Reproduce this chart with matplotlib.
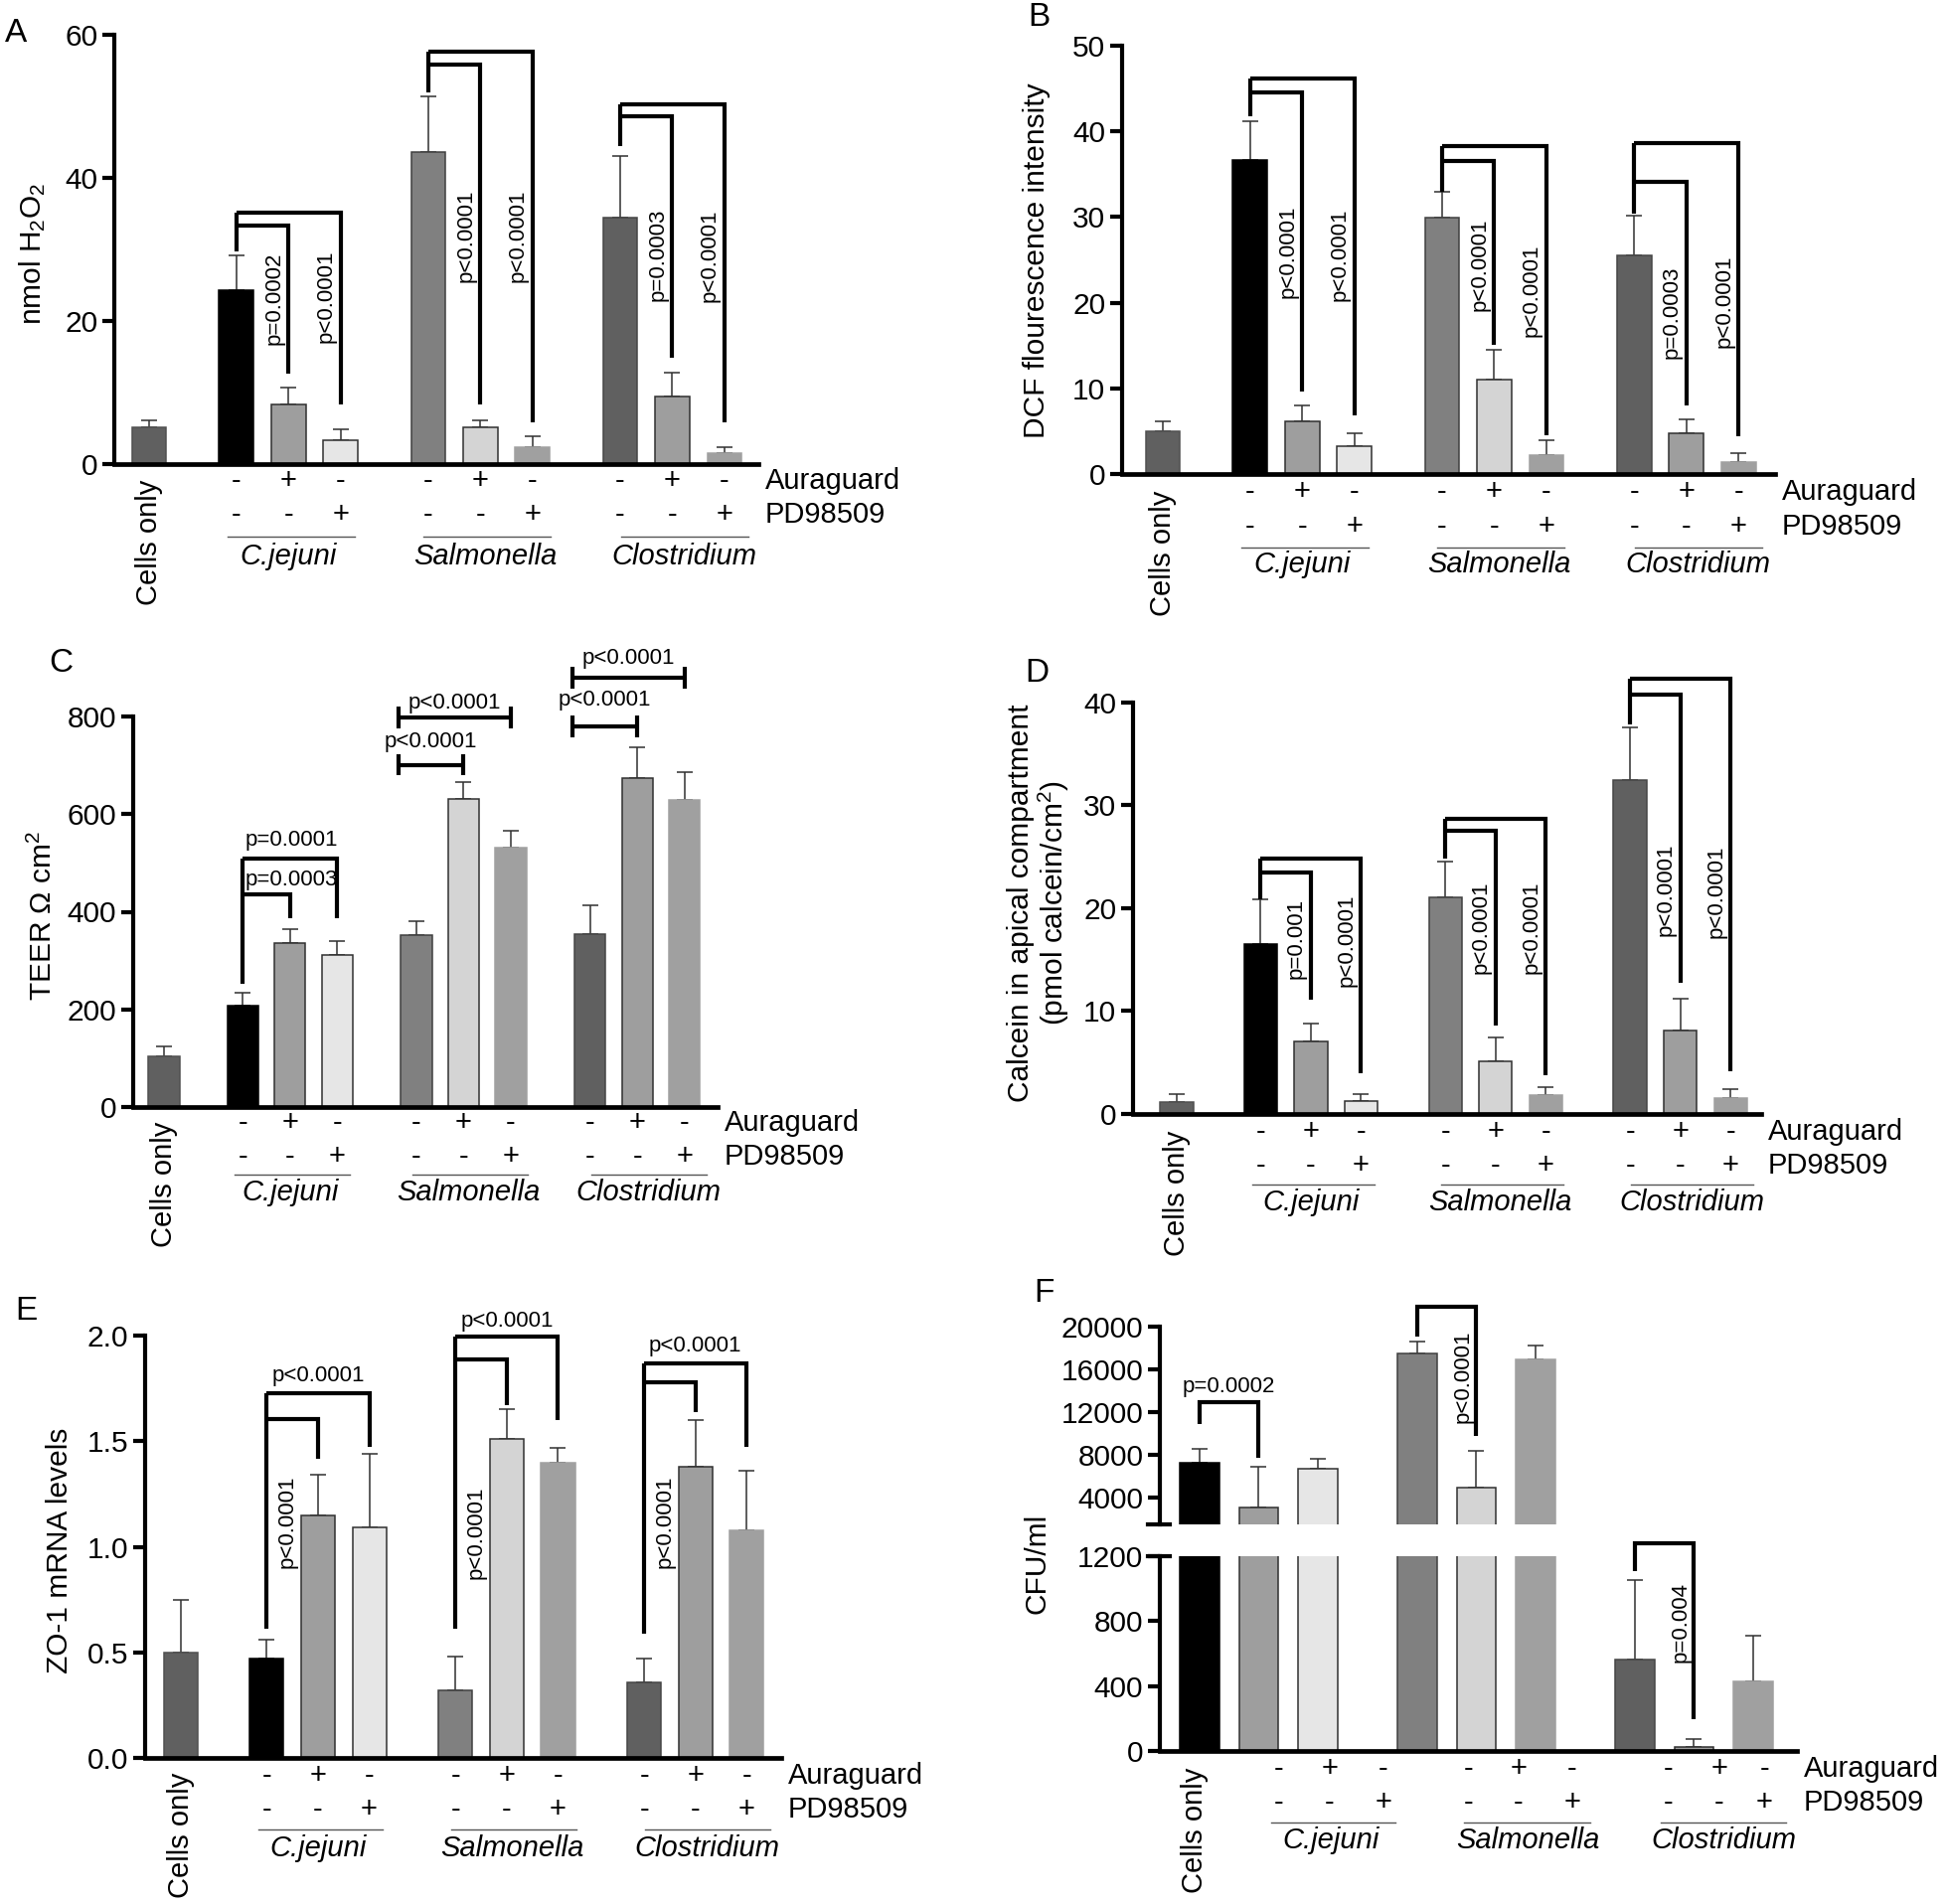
import matplotlib
matplotlib.use("Agg")
import matplotlib.pyplot as plt
import matplotlib.transforms as mtransforms

plt.rcParams["font.family"] = ["Liberation Sans", "DejaVu Sans"]
plt.rcParams["mathtext.fontset"] = "custom"
plt.rcParams["mathtext.rm"] = "Liberation Sans"
plt.rcParams["mathtext.it"] = "Liberation Sans:italic"

W, H = 1960, 1916
DPI = 100

# ------------------------------------------------------------
# data
# ------------------------------------------------------------
species = ["C.jejuni", "Salmonella", "Clostridium"]
aura_signs = ["-", "+", "-"]
pd_signs = ["-", "-", "+"]

# order: cells only, C.jejuni (-/-, +/-, -/+), Salmonella (...), Clostridium (...)
h2o2_mean = [5.1, 24.3, 8.3, 3.3, 43.6, 5.1, 2.3, 34.5, 9.4, 1.5]
h2o2_err = [1.05, 4.9, 2.4, 1.5, 7.8, 1.05, 1.65, 8.5, 3.35, 0.8]

dcf_mean = [5.0, 36.7, 6.2, 3.2, 29.9, 11.0, 2.2, 25.5, 4.8, 1.4]
dcf_err = [1.15, 4.5, 1.75, 1.5, 3.1, 3.5, 1.7, 4.7, 1.6, 1.0]

teer_mean = [104, 208, 335, 312, 352, 632, 532, 354, 674, 630]
teer_err = [20, 27, 30, 27, 29, 33, 33, 60, 63, 55]

calcein_mean = [1.2, 16.5, 7.1, 1.3, 21.1, 5.1, 1.8, 32.5, 8.1, 1.55]
calcein_err = [0.7, 4.4, 1.7, 0.6, 3.4, 2.3, 0.8, 5.1, 3.1, 0.85]

zo1_mean = [0.50, 0.47, 1.15, 1.09, 0.32, 1.51, 1.40, 0.36, 1.38, 1.08]
zo1_err = [0.25, 0.09, 0.19, 0.35, 0.16, 0.14, 0.07, 0.11, 0.22, 0.28]

# panel F has no cells-only bar
cfu_mean = [7320, 3160, 6740, 17520, 4990, 16900, 561, 24, 426]
cfu_err = [1280, 3800, 950, 1090, 3390, 1310, 492, 48, 285]

# significance brackets: (bar, bar_inner, bar_outer, top_inner, top_outer,
#  left_end, end_inner, end_outer, p_inner, p_outer, y_p_inner, y_p_outer)
h2o2_sig = [
    (1, 2, 3, 33.4, 35.2, 29.7, 12.7, 8.35, "p=0.0002", "p<0.0001", 23.2, 23.5),
    (4, 5, 6, 55.8, 57.7, 51.9, 8.35, 5.8, "p<0.0001", "p<0.0001", 31.9, 31.9),
    (7, 8, 9, 48.6, 50.3, 44.5, 14.8, 5.8, "p=0.0003", "p<0.0001", 29.2, 29.2),
]
dcf_sig = [
    (1, 2, 3, 44.5, 46.2, 41.8, 9.6, 6.8, "p<0.0001", "p<0.0001", 25.9, 25.6),
    (4, 5, 6, 36.6, 38.3, 33.0, 15.1, 4.5, "p<0.0001", "p<0.0001", 24.5, 21.4),
    (7, 8, 9, 34.1, 38.6, 30.4, 8.0, 4.4, "p=0.0003", "p<0.0001", 18.9, 20.1),
]
calcein_sig = [
    (1, 2, 3, 23.5, 24.8, 20.9, 11.1, 4.0, "p=0.001", "p<0.0001", 17.1, 16.9),
    (4, 5, 6, 27.5, 28.7, 24.8, 8.6, 3.8, "p<0.0001", "p<0.0001", 18.1, 18.1),
    (7, 8, 9, 40.8, 42.3, 37.9, 12.75, 4.2, "p<0.0001", "p<0.0001", 21.8, 21.6),
]
# ZO-1: rotated label on inner comparison, horizontal label over outer one
zo1_sig = [
    (1, 2, 3, 1.607, 1.728, 0.613, 1.417, 1.472, "p<0.0001", "p<0.0001", 1.12, 1.81),
    (4, 5, 6, 1.885, 1.996, 0.613, 1.672, 1.598, "p<0.0001", "p<0.0001", 1.067, 2.07),
    (7, 8, 9, 1.78, 1.87, 0.589, 1.639, 1.472, "p<0.0001", "p<0.0001", 1.12, 1.95),
]
# TEER C.jejuni fork + H-shaped brackets for the other two groups
teer_fork = (1, 2, 3, 436, 508, 253, 387, 387, "p=0.0003", "p=0.0001", 465, 547)
teer_hbars = [  # (bar_a, bar_b, y, label, y_label)
    (4, 5, 701, "p<0.0001", 749),
    (4, 6, 798, "p<0.0001", 827),
    (7, 8, 780, "p<0.0001", 833),
    (7, 9, 880, "p<0.0001", 920),
]

# ------------------------------------------------------------
# styling
# ------------------------------------------------------------
COLORS = ["#606060", "#000000", "#9e9e9e", "#e6e6e6", "#808080",
          "#d4d4d4", "#a0a0a0", "#606060", "#9e9e9e", "#a0a0a0"]
EDGES = ["#505050", "#000000", "#303030", "#303030", "#404040",
         "#303030", "#a0a0a0", "#454545", "#303030", "#a0a0a0"]
GROUP_START = [1.67, 5.35, 9.03]
POS = [0.0] + [g + k for g in GROUP_START for k in range(3)]
BAR_W = 0.66
FS = 21
TFS = 21.5
PFS = 16
BLW = 3.0

fig = plt.figure(figsize=(W / DPI, H / DPI), dpi=DPI)


def add_axes(l, t, r, b):
    return fig.add_axes([l / W, 1 - b / H, (r - l) / W, (b - t) / H])


def shift(dx=0, dy=0):
    return mtransforms.ScaledTranslation(dx / DPI, -dy / DPI, fig.dpi_scale_trans)


def style_axis(ax, xlim, ylim, yticks, ylabels=None):
    ax.set_xlim(*xlim)
    ax.set_ylim(*ylim)
    ax.set_yticks(yticks)
    if ylabels is not None:
        ax.set_yticklabels(ylabels)
    ax.set_xticks([])
    for s in ["top", "right"]:
        ax.spines[s].set_visible(False)
    ax.spines["left"].set_linewidth(3)
    ax.spines["bottom"].set_linewidth(3.4)
    ax.tick_params(axis="y", length=9, width=3, labelsize=TFS, pad=3)
    ax.patch.set_alpha(0)


def draw_bars(ax, pos, mean, err, colors, edges):
    ax.bar(pos, mean, width=BAR_W, color=colors, edgecolor=edges, linewidth=1.1, zorder=2)
    ax.errorbar(pos, mean, yerr=[[0] * len(err), err], fmt="none", ecolor="#303030",
                elinewidth=1.1, capsize=6, capthick=1.1, zorder=1)


def line(ax, xs, ys, **kw):
    ax.plot(xs, ys, color="black", lw=BLW, clip_on=False, solid_joinstyle="miter",
            solid_capstyle="butt", zorder=4, **kw)


def fork(ax, pos, i, j1, j2, top1, top2, left_end, end1, end2):
    line(ax, [pos[i], pos[i]], [left_end, top2])
    line(ax, [pos[i], pos[j1], pos[j1]], [top1, top1, end1])
    line(ax, [pos[i], pos[j2], pos[j2]], [top2, top2, end2])


def rot_label(ax, x, y, s, dx, ha):
    ax.text(x, y, s, rotation=90, ha=ha, va="center", fontsize=PFS,
            transform=ax.transData + shift(dx, 0), clip_on=False, zorder=5)


def bottom_labels(ax, sign_x, cells_x, rows, under, sp_x):
    r1, r2, ru, rs, rc = rows
    base = mtransforms.blended_transform_factory(ax.transData, ax.transAxes)
    if cells_x is not None:
        ax.text(cells_x, 0, "Cells only", rotation=90, ha="center", va="top",
                fontsize=FS, transform=base + shift(0, rc), clip_on=False)
    for g in range(3):
        for k in range(3):
            x = sign_x[3 * g + k]
            ax.text(x, 0, aura_signs[k], ha="center", va="center", fontsize=FS,
                    transform=base + shift(0, r1), clip_on=False)
            ax.text(x, 0, pd_signs[k], ha="center", va="center", fontsize=FS,
                    transform=base + shift(0, r2), clip_on=False)
        ax.plot(under[g], [0, 0], color="#555555", lw=1.0, clip_on=False,
                transform=base + shift(0, ru))
        ax.text(sp_x[g], 0, species[g], ha="center", va="center", fontsize=FS,
                style="italic", transform=base + shift(0, rs), clip_on=False)
    ax.text(1, 0, "Auraguard", ha="left", va="center", fontsize=FS,
            transform=ax.transAxes + shift(7, r1), clip_on=False)
    ax.text(1, 0, "PD98509", ha="left", va="center", fontsize=FS,
            transform=ax.transAxes + shift(7, r2), clip_on=False)


UNDER_OFF = [0.05, 0.13, 0.24]
SP_OFF = [0.0, 0.1, 0.23]
STD_UNDER = [[GROUP_START[g] + 1 + UNDER_OFF[g] - 1.22, GROUP_START[g] + 1 + UNDER_OFF[g] + 1.22]
             for g in range(3)]
STD_SP = [GROUP_START[g] + 1 + SP_OFF[g] for g in range(3)]


def fig_text(x, y, s, size=21.5, **kw):
    fig.text(x / W, 1 - y / H, s, fontsize=size, ha="center", va="center", **kw)


def fork_panel(ax, mean, err, sig, xlim, ylim, yticks, rows, rot_inner_left=False,
               ylabels=None):
    draw_bars(ax, POS, mean, err, COLORS, EDGES)
    style_axis(ax, xlim, ylim, yticks, ylabels)
    for (i, j1, j2, t1, t2, le, e1, e2, p1, p2, yp1, yp2) in sig:
        fork(ax, POS, i, j1, j2, t1, t2, le, e1, e2)
        if rot_inner_left:
            rot_label(ax, POS[i], yp1, p1, 10, "left")
            ax.text((POS[i] + POS[j2]) / 2, yp2, p2, ha="center", va="center",
                    fontsize=PFS, clip_on=False)
        else:
            rot_label(ax, POS[j1], yp1, p1, -4, "right")
            rot_label(ax, POS[j2], yp2, p2, -4, "right")
    bottom_labels(ax, POS[1:], POS[0], rows, STD_UNDER, STD_SP)


# ------------------------------------------------------------
# A. H2O2
# ------------------------------------------------------------
axA = add_axes(115, 35, 763, 467)
fork_panel(axA, h2o2_mean, h2o2_err, h2o2_sig, (-0.67, 11.68), (0, 60), [0, 20, 40, 60],
           (17, 51, 73, 93, 16))
fig_text(33, 255, "nmol H$_2$O$_2$", rotation=90)
fig_text(16, 34, "A", size=24)

# ------------------------------------------------------------
# B. DCF
# ------------------------------------------------------------
axB = add_axes(1129, 46, 1786, 477)
fork_panel(axB, dcf_mean, dcf_err, dcf_sig, (-0.78, 11.73), (0, 50), [0, 10, 20, 30, 40, 50],
           (18, 53, 74, 91, 17))
fig_text(1043, 262, "DCF flourescence intensity", rotation=90)
fig_text(1045, 17, "B", size=24)

# ------------------------------------------------------------
# C. TEER
# ------------------------------------------------------------
axC = add_axes(134, 721, 722, 1114)
draw_bars(axC, POS, teer_mean, teer_err, COLORS, EDGES)
style_axis(axC, (-0.65, 11.73), (0, 800), [0, 200, 400, 600, 800])
i, j1, j2, t1, t2, le, e1, e2, p1, p2, yp1, yp2 = teer_fork
fork(axC, POS, i, j1, j2, t1, t2, le, e1, e2)
axC.text(POS[i] + 0.05, yp1, p1, ha="left", va="center", fontsize=PFS)
axC.text(POS[i] + 0.05, yp2, p2, ha="left", va="center", fontsize=PFS)
for (a, b, y, s, ys) in teer_hbars:
    x1, x2 = POS[a] - 0.38, POS[b]
    line(axC, [x1, x2], [y, y])
    line(axC, [x1, x1], [y - 22, y + 22])
    line(axC, [x2, x2], [y - 22, y + 22])
    axC.text((x1 + x2) / 2, ys, s, ha="center", va="center", fontsize=PFS, clip_on=False)
bottom_labels(axC, POS[1:], POS[0], (16, 50, 68, 86, 15), STD_UNDER, STD_SP)
fig_text(43, 921, "TEER \u03a9 cm$^2$", rotation=90)
fig_text(61, 667, "C", size=24)

# ------------------------------------------------------------
# D. Calcein
# ------------------------------------------------------------
axD = add_axes(1140, 707, 1772, 1121)
fork_panel(axD, calcein_mean, calcein_err, calcein_sig, (-0.87, 11.64), (0, 40),
           [0, 10, 20, 30, 40], (18, 52, 71, 89, 17))
fig_text(1027, 909, "Calcein in apical compartment", rotation=90)
fig_text(1060, 909, "(pmol calcein/cm$^2$)", rotation=90)
fig_text(1043, 677, "D", size=24)

# ------------------------------------------------------------
# E. ZO-1
# ------------------------------------------------------------
axE = add_axes(146, 1344, 786, 1769)
zo_ticks = [0, 0.5, 1.0, 1.5, 2.0]
fork_panel(axE, zo1_mean, zo1_err, zo1_sig, (-0.70, 11.70), (0, 2.0), zo_ticks,
           (18, 52, 72, 91, 15), rot_inner_left=True,
           ylabels=[f"{t:.1f}" for t in zo_ticks])
fig_text(60, 1560, "ZO-1 mRNA levels", rotation=90)
fig_text(26, 1320, "E", size=24)

# ------------------------------------------------------------
# F. CFU/ml (broken axis)
# ------------------------------------------------------------
F_POS = [0, 1, 2, 3.68, 4.68, 5.68, 7.36, 8.36, 9.36]
F_COLORS = COLORS[1:]
F_EDGES = EDGES[1:]
F_XLIM = (-0.67, 10.1)

axFu = add_axes(1167, 1335, 1808, 1534)
axFl = add_axes(1167, 1566, 1808, 1762)
for ax in (axFu, axFl):
    draw_bars(ax, F_POS, cfu_mean, cfu_err, F_COLORS, F_EDGES)
style_axis(axFu, F_XLIM, (1540, 20000), [4000, 8000, 12000, 16000, 20000])
axFu.spines["bottom"].set_visible(False)
style_axis(axFl, F_XLIM, (0, 1200), [0, 400, 800, 1200])
# break marks on the y axis
axFu.plot([-0.019, 0.016], [0, 0], transform=axFu.transAxes, color="black", lw=3, clip_on=False)
axFl.plot([-0.019, 0.016], [1, 1], transform=axFl.transAxes, color="black", lw=3, clip_on=False)

line(axFu, [F_POS[0], F_POS[0], F_POS[1], F_POS[1]], [10868, 12986, 12986, 7763])
axFu.text((F_POS[0] + F_POS[1]) / 2, 14411, "p=0.0002", ha="center", va="center", fontsize=PFS)
line(axFu, [F_POS[3], F_POS[3], F_POS[4], F_POS[4]], [19087, 21900, 21900, 9772])
rot_label(axFu, F_POS[4], 15324, "p<0.0001", -3, "right")
line(axFl, [F_POS[6], F_POS[6], F_POS[7], F_POS[7]], [1108, 1277, 1277, 193])
rot_label(axFl, F_POS[7], 795, "p=0.004", -3, "right")

F_SIGN_X = [1.34, 2.20, 3.11, 4.55, 5.39, 6.30, 7.93, 8.79, 9.55]
F_UNDER = [[1.21, 3.31], [4.47, 6.61], [7.80, 9.92]]
F_SP = [2.22, 5.55, 8.86]
bottom_labels(axFl, F_SIGN_X, -0.08, (18, 52, 72, 90, 17), F_UNDER, F_SP)
fig_text(1043, 1573, "CFU/ml", rotation=90)
fig_text(1050, 1302, "F", size=24)

fig.savefig("out.png", dpi=DPI, facecolor="white")
